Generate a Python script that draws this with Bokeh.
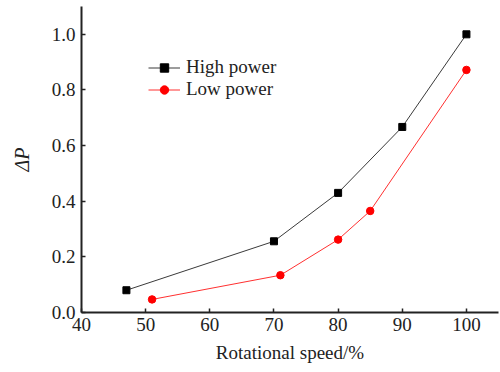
from bokeh.plotting import figure
from bokeh.models import FixedTicker, PrintfTickFormatter, Legend, LegendItem, Range1d
from bokeh.embed import file_html
from bokeh.resources import INLINE

# Data
high_speed = [47, 70, 80, 90, 100]
high_dp = [0.080, 0.256, 0.430, 0.667, 1.000]
low_speed = [51, 71, 80, 85, 100]
low_dp = [0.047, 0.134, 0.262, 0.365, 0.872]

x_ticks = [40, 50, 60, 70, 80, 90, 100]
y_ticks = [0.0, 0.2, 0.4, 0.6, 0.8, 1.0]

FONT = "Liberation Serif"
FS = "19px"

p = figure(width=500, height=372, output_backend="svg", toolbar_location=None,
           x_range=Range1d(40, 105), y_range=Range1d(0, 1.1),
           min_border_left=81, min_border_right=2, min_border_top=6, min_border_bottom=60)
p.outline_line_color = None
p.xgrid.visible = False
p.ygrid.visible = False
p.background_fill_color = "white"
p.border_fill_color = "white"

l1 = p.line(high_speed, high_dp, line_color="#3a3a3a", line_width=1)
m1 = p.scatter(high_speed, high_dp, marker="square", size=7, fill_color="black", line_color="black")
l2 = p.line(low_speed, low_dp, line_color="#ff3030", line_width=1)
m2 = p.scatter(low_speed, low_dp, marker="circle", size=7.5, fill_color="#ff0000", line_color="#ff0000")

for ax in (p.xaxis[0], p.yaxis[0]):
    ax.axis_line_width = 2
    ax.axis_line_color = "#222222"
    ax.major_tick_in = 4
    ax.major_tick_out = 0
    ax.major_tick_line_width = 1.5
    ax.major_tick_line_color = "#222222"
    ax.minor_tick_line_color = None
    ax.major_label_text_font = FONT
    ax.major_label_text_font_size = FS
    ax.major_label_text_color = "#222222"
    ax.axis_label_text_font = FONT
    ax.axis_label_text_font_size = FS
    ax.axis_label_text_color = "#222222"

p.xaxis.ticker = FixedTicker(ticks=x_ticks)
p.xaxis.formatter = PrintfTickFormatter(format="%d")
p.xaxis.axis_label = "Rotational speed/%"
p.xaxis.axis_label_text_font_style = "normal"
p.xaxis.major_label_standoff = 5
p.xaxis.axis_label_standoff = 8

p.yaxis.ticker = FixedTicker(ticks=y_ticks)
p.yaxis.formatter = PrintfTickFormatter(format="%.1f")
p.yaxis.major_label_standoff = 6
p.yaxis.axis_label = "ΔP"
p.yaxis.axis_label_text_font_style = "italic"
p.yaxis.axis_label_text_font_size = "20px"
p.yaxis.axis_label_standoff = 16

legend = Legend(items=[LegendItem(label="High power", renderers=[l1, m1]),
                       LegendItem(label="Low power", renderers=[l2, m2])],
                location=(67, 212))
legend.border_line_color = None
legend.background_fill_alpha = 0
legend.padding = 0
legend.margin = 0
legend.spacing = 0
legend.glyph_width = 32
legend.glyph_height = 21
legend.label_height = 21
legend.label_standoff = 6
legend.label_text_font = FONT
legend.label_text_font_size = FS
legend.label_text_color = "#222222"
p.add_layout(legend)

open("out.html", "w").write(file_html(p, INLINE))
